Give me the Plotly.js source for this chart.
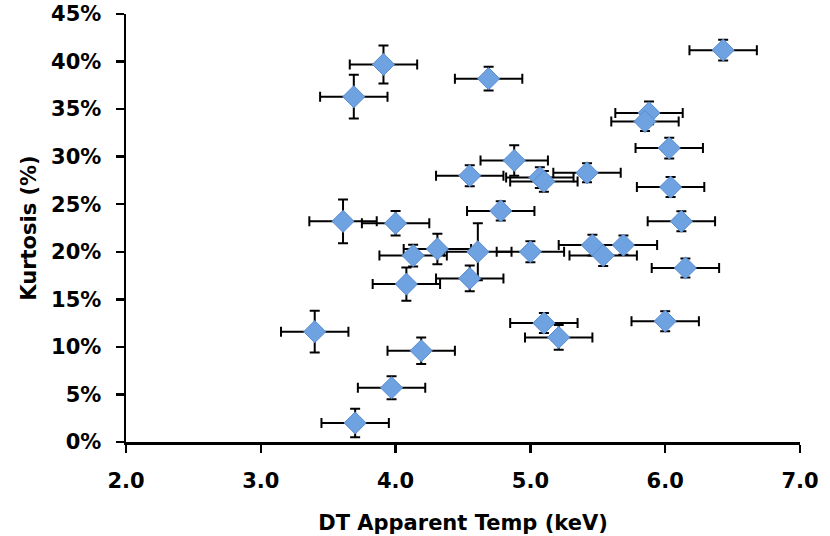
<!DOCTYPE html>
<html>
<head>
<meta charset="utf-8">
<script src="https://cdn.plot.ly/plotly-3.0.1.min.js"></script>
<style>html,body{margin:0;padding:0;background:#fff;}#chart{width:830px;height:536px;}</style>
</head>
<body>
<div id="chart"></div>
<script>
// DT apparent temperature (keV)
const tempKeV = [6.43, 3.91, 4.69, 3.69, 5.88, 5.85, 6.03, 4.88, 4.55, 5.07, 5.10, 5.42,
                 6.04, 4.78, 3.61, 4.00, 6.12, 4.31, 4.61, 5.00, 5.46, 5.69, 5.54, 4.13,
                 6.15, 4.55, 4.08, 6.00, 5.10, 5.21, 3.40, 4.19, 3.97, 3.70];
// Kurtosis (fraction)
const kurtosis = [0.412, 0.397, 0.382, 0.363, 0.346, 0.337, 0.309, 0.296, 0.280, 0.278, 0.274, 0.283,
                  0.268, 0.243, 0.232, 0.230, 0.232, 0.203, 0.200, 0.200, 0.207, 0.207, 0.196, 0.196,
                  0.183, 0.172, 0.166, 0.127, 0.125, 0.110, 0.116, 0.096, 0.057, 0.020];
// Temperature uncertainty (keV)
const tempErr = [0.25, 0.25, 0.25, 0.25, 0.25, 0.25, 0.25, 0.25, 0.25, 0.25, 0.25, 0.25,
                 0.25, 0.25, 0.25, 0.25, 0.25, 0.25, 0.25, 0.25, 0.25, 0.25, 0.25, 0.25,
                 0.25, 0.25, 0.25, 0.25, 0.25, 0.25, 0.25, 0.25, 0.25, 0.25];
// Kurtosis uncertainty (fraction)
const kurtErr = [0.011, 0.020, 0.0125, 0.023, 0.012, 0.010, 0.011, 0.016, 0.011, 0.011, 0.011, 0.010,
                 0.0105, 0.010, 0.023, 0.013, 0.0105, 0.016, 0.030, 0.011, 0.011, 0.010, 0.011, 0.0115,
                 0.010, 0.0135, 0.0175, 0.0105, 0.0105, 0.013, 0.022, 0.014, 0.012, 0.015];
const xTicks = [2, 3, 4, 5, 6, 7];
const xTickLabels = ['2.0', '3.0', '4.0', '5.0', '6.0', '7.0'];
const yTicks = [0, 0.05, 0.10, 0.15, 0.20, 0.25, 0.30, 0.35, 0.40, 0.45];
const yTickLabels = ['0%', '5%', '10%', '15%', '20%', '25%', '30%', '35%', '40%', '45%'];

const font = '"DejaVu Sans", Verdana, sans-serif';

const trace = {
  type: 'scatter',
  mode: 'markers',
  x: tempKeV,
  y: kurtosis,
  error_x: {type: 'data', array: tempErr, visible: true, color: '#000', thickness: 2, width: 5},
  error_y: {type: 'data', array: kurtErr, visible: true, color: '#000', thickness: 2, width: 5},
  marker: {symbol: 'diamond', size: 17, color: '#6fa2e0', line: {color: '#5a8cd0', width: 1}},
  hoverinfo: 'x+y'
};

const layout = {
  width: 830, height: 536,
  margin: {l: 126, r: 30, t: 14, b: 94.3},
  paper_bgcolor: '#fff', plot_bgcolor: '#fff',
  showlegend: false,
  font: {family: font, color: '#000'},
  xaxis: {
    range: [2, 7], tickvals: xTicks, ticktext: xTickLabels,
    showgrid: false, zeroline: false,
    showline: true, linecolor: '#000', linewidth: 2.5,
    ticks: 'outside', ticklen: 8, tickwidth: 2.5, tickcolor: '#000',
    tickfont: {family: font, size: 21, color: '#000', weight: 'bold'},
    ticklabelstandoff: 10,
    title: {text: 'DT Apparent Temp (keV)', font: {family: font, size: 21, color: '#000', weight: 'bold'}, standoff: 24}
  },
  yaxis: {
    range: [0, 0.45], tickvals: yTicks, ticktext: yTickLabels,
    showgrid: false, zeroline: false,
    showline: true, linecolor: '#000', linewidth: 2.5,
    ticks: 'outside', ticklen: 8, tickwidth: 2.5, tickcolor: '#000',
    tickfont: {family: font, size: 21, color: '#000', weight: 'bold'},
    ticklabelstandoff: 10,
    title: {text: 'Kurtosis (%)', font: {family: font, size: 21, color: '#000', weight: 'bold'}, standoff: 9}
  }
};

Plotly.newPlot('chart', [trace], layout, {displayModeBar: false, staticPlot: true});
</script>
</body>
</html>
